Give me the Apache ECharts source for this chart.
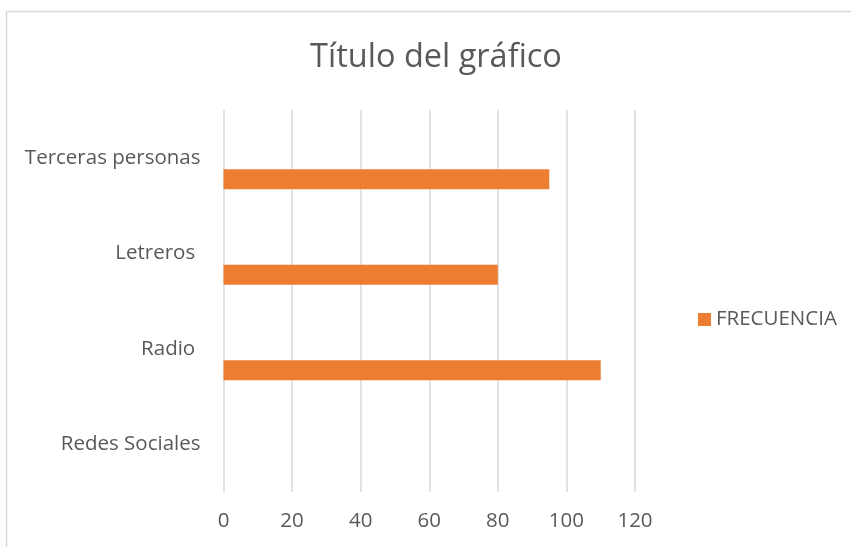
<!DOCTYPE html>
<html>
<head>
<meta charset="utf-8">
<script src="https://cdn.jsdelivr.net/npm/echarts@6/dist/echarts.min.js"></script>
<style>html,body{margin:0;padding:0;background:#fff}#c{width:851px;height:547px}</style>
</head>
<body>
<div id="c"></div>
<script>
const categories = ['Redes Sociales', 'Radio ', 'Letreros ', 'Terceras personas'];
const frecuencia = [0, 110, 80, 95];
const seriesName = 'FRECUENCIA';
const xTicks = { min: 0, max: 120, interval: 20 };
const titleText = 'Título del gráfico';

const chart = echarts.init(document.getElementById('c'));
const textColor = '#595959';
const font = '"Open Sans", "Noto Sans", sans-serif';
chart.setOption({
  animation: false,
  backgroundColor: '#fff',
  textStyle: { fontFamily: font },
  graphic: [{
    type: 'rect', silent: true, z: -1,
    shape: { x: 6.5, y: 11.5, width: 900, height: 600 },
    style: { fill: 'none', stroke: '#d9d9d9', lineWidth: 1.5 }
  }],
  title: {
    text: titleText, left: 431, top: 36, textAlign: 'center',
    textStyle: { fontFamily: font, fontSize: 32.5, fontWeight: 'normal', color: textColor }
  },
  legend: {
    data: [seriesName], orient: 'vertical', left: 693, top: 304,
    itemWidth: 13, itemHeight: 13, icon: 'rect',
    textStyle: { fontFamily: font, fontSize: 20.5, color: textColor }
  },
  grid: { left: 223.5, right: 216, top: 110, bottom: 55, containLabel: false },
  xAxis: {
    type: 'value', min: xTicks.min, max: xTicks.max, interval: xTicks.interval,
    axisLine: { show: false }, axisTick: { show: false },
    splitLine: { lineStyle: { color: '#d9d9d9', width: 1.5 } },
    axisLabel: { color: textColor, fontSize: 20.5, fontFamily: font, margin: 19 }
  },
  yAxis: {
    type: 'category', data: categories,
    axisLine: { show: false }, axisTick: { show: false },
    axisLabel: { color: textColor, fontSize: 20.5, fontFamily: font, margin: 23 }
  },
  series: [
    { name: 'S3', type: 'bar', data: [], barWidth: 20, barGap: '8%' },
    { name: 'S2', type: 'bar', data: [], barWidth: 20, barGap: '8%' },
    { name: seriesName, type: 'bar', data: frecuencia, barWidth: 20, barGap: '8%',
      itemStyle: { color: '#ed7d31' } }
  ]
});
</script>
</body>
</html>
